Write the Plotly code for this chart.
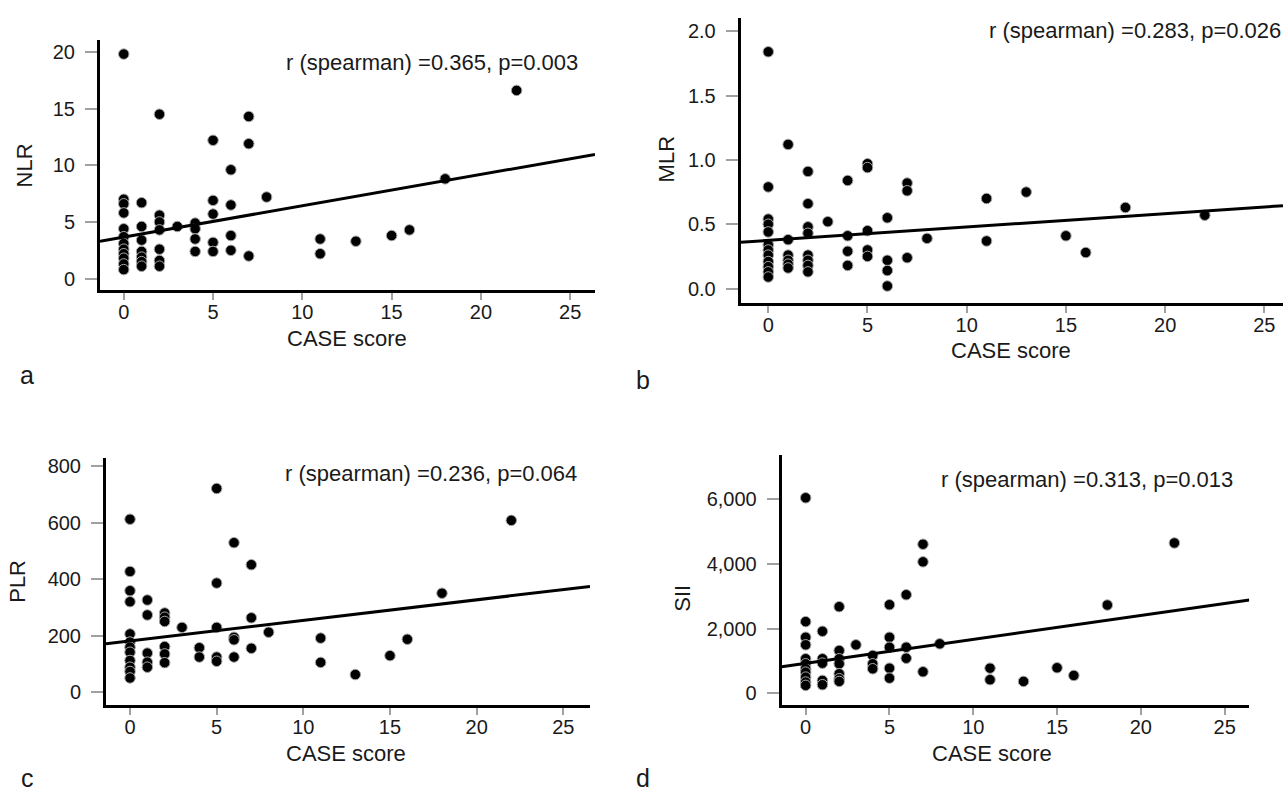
import plotly.graph_objects as go
import numpy as np

W, H = 1283, 791

# ---------------- data ----------------
case_a = [0]*12 + [1]*7 + [2]*7 + [3] + [4]*4 + [5]*5 + [6]*4 + [7]*3 + [8] + [11]*2 + [13, 15, 16, 18, 22]
nlr = [19.8, 7.0, 6.6, 5.8, 4.4, 3.7, 3.1, 2.6, 2.2, 1.8, 1.3, 0.8,
       6.7, 4.6, 3.4, 2.4, 1.9, 1.5, 1.1,
       14.5, 5.6, 5.0, 4.3, 2.6, 1.6, 1.1,
       4.6,
       4.9, 4.4, 3.5, 2.4,
       12.2, 6.9, 5.7, 3.2, 2.4,
       9.6, 6.5, 3.8, 2.5,
       14.3, 11.9, 2.0,
       7.2,
       3.5, 2.2,
       3.3, 3.8, 4.3, 8.8, 16.6]

case_b = [0]*12 + [1]*6 + [2]*8 + [3] + [4]*4 + [5]*5 + [6]*4 + [7]*3 + [8] + [11]*2 + [13, 15, 16, 18, 22]
mlr = [1.84, 0.79, 0.54, 0.50, 0.44, 0.34, 0.30, 0.26, 0.21, 0.17, 0.13, 0.09,
       1.12, 0.38, 0.26, 0.22, 0.19, 0.16,
       0.91, 0.66, 0.48, 0.43, 0.26, 0.22, 0.18, 0.13,
       0.52,
       0.84, 0.41, 0.29, 0.18,
       0.97, 0.94, 0.45, 0.30, 0.25,
       0.55, 0.22, 0.14, 0.02,
       0.82, 0.76, 0.24,
       0.39,
       0.70, 0.37,
       0.75, 0.41, 0.28, 0.63, 0.57]

case_c = [0]*12 + [1]*5 + [2]*6 + [3] + [4]*2 + [5]*5 + [6]*4 + [7]*3 + [8] + [11]*2 + [13, 15, 16, 18, 22]
plr = [612, 427, 359, 320, 206, 177, 159, 141, 112, 88, 73, 50,
       326, 273, 138, 106, 88,
       280, 265, 250, 161, 135, 104,
       229,
       157, 124,
       721, 386, 229, 124, 109,
       529, 194, 185, 124,
       451, 263, 155,
       212,
       191, 105,
       62, 129, 187, 350, 608]

case_d = [0]*11 + [1]*5 + [2]*7 + [3] + [4]*3 + [5]*5 + [6]*3 + [7]*3 + [8] + [11]*2 + [13, 15, 16, 18, 22]
sii = [6049, 2213, 1728, 1494, 1062, 907, 753, 648, 494, 340, 238,
       1914, 1062, 926, 392, 259,
       2676, 1318, 1062, 907, 599, 444, 361,
       1494,
       1164, 907, 753,
       2738, 1728, 1420, 772, 463,
       3046, 1420, 1080,
       4611, 4065, 660,
       1525,
       772, 414,
       361, 784, 546, 2728, 4651]

# fitted lines (intercept, slope)
fit_a = (3.67, 0.276)
fit_b = (0.3746, 0.0104)
fit_c = (180.8, 7.29)
fit_d = (923.0, 74.1)

labels_r = ["r (spearman) =0.365, p=0.003",
            "r (spearman) =0.283, p=0.026",
            "r (spearman) =0.236, p=0.064",
            "r (spearman) =0.313, p=0.013"]
ytitles = ["NLR", "MLR", "PLR", "SII"]
panel_letters = ["a", "b", "c", "d"]
xticks = [0, 5, 10, 15, 20, 25]
yticks_a = [0, 5, 10, 15, 20]
yticks_b = [0.0, 0.5, 1.0, 1.5, 2.0]
yticks_c = [0, 200, 400, 600, 800]
yticks_d = [0, 2000, 4000, 6000]

# ---------------- layout geometry (pixels) ----------------
FONT = "Liberation Sans, Arial, Helvetica, sans-serif"
TXT = "#1a1a1a"

panels = [
    dict(x=case_a, y=nlr, fit=fit_a, px=(100, 595), py=(288, 36.7),
         xr=[-1.33, 26.39], yr=[-0.99, 21.08], yt=yticks_a, yfmt=None,
         rpos=(284, 60), ytpos=(24, 163), xtpos=(347, 337), lpos=(27, 373)),
    dict(x=case_b, y=mlr, fit=fit_b, px=(740.7, 1283), py=(301, 15),
         xr=[-1.39, 25.94], yr=[-0.111, 2.103], yt=yticks_b, yfmt=".1f",
         rpos=(987, 28), ytpos=(666, 157), xtpos=(1011, 349), lpos=(643, 378)),
    dict(x=case_c, y=plr, fit=fit_c, px=(106, 590), py=(705, 456.7),
         xr=[-1.385, 26.54], yr=[-47, 829], yt=yticks_c, yfmt=None,
         rpos=(283, 472), ytpos=(18, 581), xtpos=(346, 753), lpos=(27, 778)),
    dict(x=case_d, y=sii, fit=fit_d, px=(781.7, 1249.3), py=(705, 453.3),
         xr=[-1.43, 26.47], yr=[-380, 7388], yt=yticks_d, yfmt=",",
         rpos=(939, 478), ytpos=(683, 598), xtpos=(992, 753), lpos=(643, 778)),
]

fig = go.Figure()
annotations = []
layout_axes = {}

for i, p in enumerate(panels):
    k = "" if i == 0 else str(i + 1)
    xa, ya = "x" + k, "y" + k
    fig.add_trace(go.Scatter(
        x=p["x"], y=p["y"], mode="markers", xaxis=xa, yaxis=ya,
        marker=dict(color="black", size=10.5, line=dict(color="#a8a8a8", width=1)),
        showlegend=False, hoverinfo="x+y"))
    b0, b1 = p["fit"]
    lx = np.array(p["xr"])
    fig.add_trace(go.Scatter(
        x=lx, y=b0 + b1 * lx, mode="lines", xaxis=xa, yaxis=ya,
        line=dict(color="black", width=3), showlegend=False, hoverinfo="skip"))

    common = dict(showline=True, linecolor="black", linewidth=3, mirror=False,
                  showgrid=False, zeroline=False, ticks="outside",
                  tickwidth=1.5, tickcolor="#a0a0a0",
                  tickfont=dict(family=FONT, size=20, color=TXT))
    layout_axes["xaxis" + k] = dict(
        common, domain=[p["px"][0] / W, p["px"][1] / W], range=p["xr"],
        tickvals=xticks, anchor=ya, ticklen=7, ticklabelstandoff=-5)
    yax = dict(common, domain=[1 - p["py"][0] / H, 1 - p["py"][1] / H],
               range=p["yr"], tickvals=p["yt"], anchor=xa, ticklen=12,
               ticklabelstandoff=6)
    if p["yfmt"]:
        yax["tickformat"] = p["yfmt"]
    layout_axes["yaxis" + k] = yax

    annotations.append(dict(text=labels_r[i], x=p["rpos"][0] / W, y=1 - p["rpos"][1] / H,
                            xref="paper", yref="paper", xanchor="left", yanchor="middle",
                            showarrow=False, font=dict(family=FONT, size=22, color=TXT)))
    annotations.append(dict(text=ytitles[i], x=p["ytpos"][0] / W, y=1 - p["ytpos"][1] / H,
                            xref="paper", yref="paper", xanchor="center", yanchor="middle",
                            textangle=-90, showarrow=False,
                            font=dict(family=FONT, size=22, color=TXT)))
    annotations.append(dict(text="CASE score", x=p["xtpos"][0] / W, y=1 - p["xtpos"][1] / H,
                            xref="paper", yref="paper", xanchor="center", yanchor="middle",
                            showarrow=False, font=dict(family=FONT, size=22, color=TXT)))
    annotations.append(dict(text=panel_letters[i], x=p["lpos"][0] / W, y=1 - p["lpos"][1] / H,
                            xref="paper", yref="paper", xanchor="center", yanchor="middle",
                            showarrow=False, font=dict(family=FONT, size=25, color=TXT)))

fig.update_layout(
    width=W, height=H, margin=dict(l=0, r=0, t=0, b=0),
    plot_bgcolor="white", paper_bgcolor="white",
    annotations=annotations, **layout_axes)

fig.write_html("out.html", config={"displayModeBar": False},
               post_script="document.body.style.margin='0';document.body.style.overflow='hidden';")
